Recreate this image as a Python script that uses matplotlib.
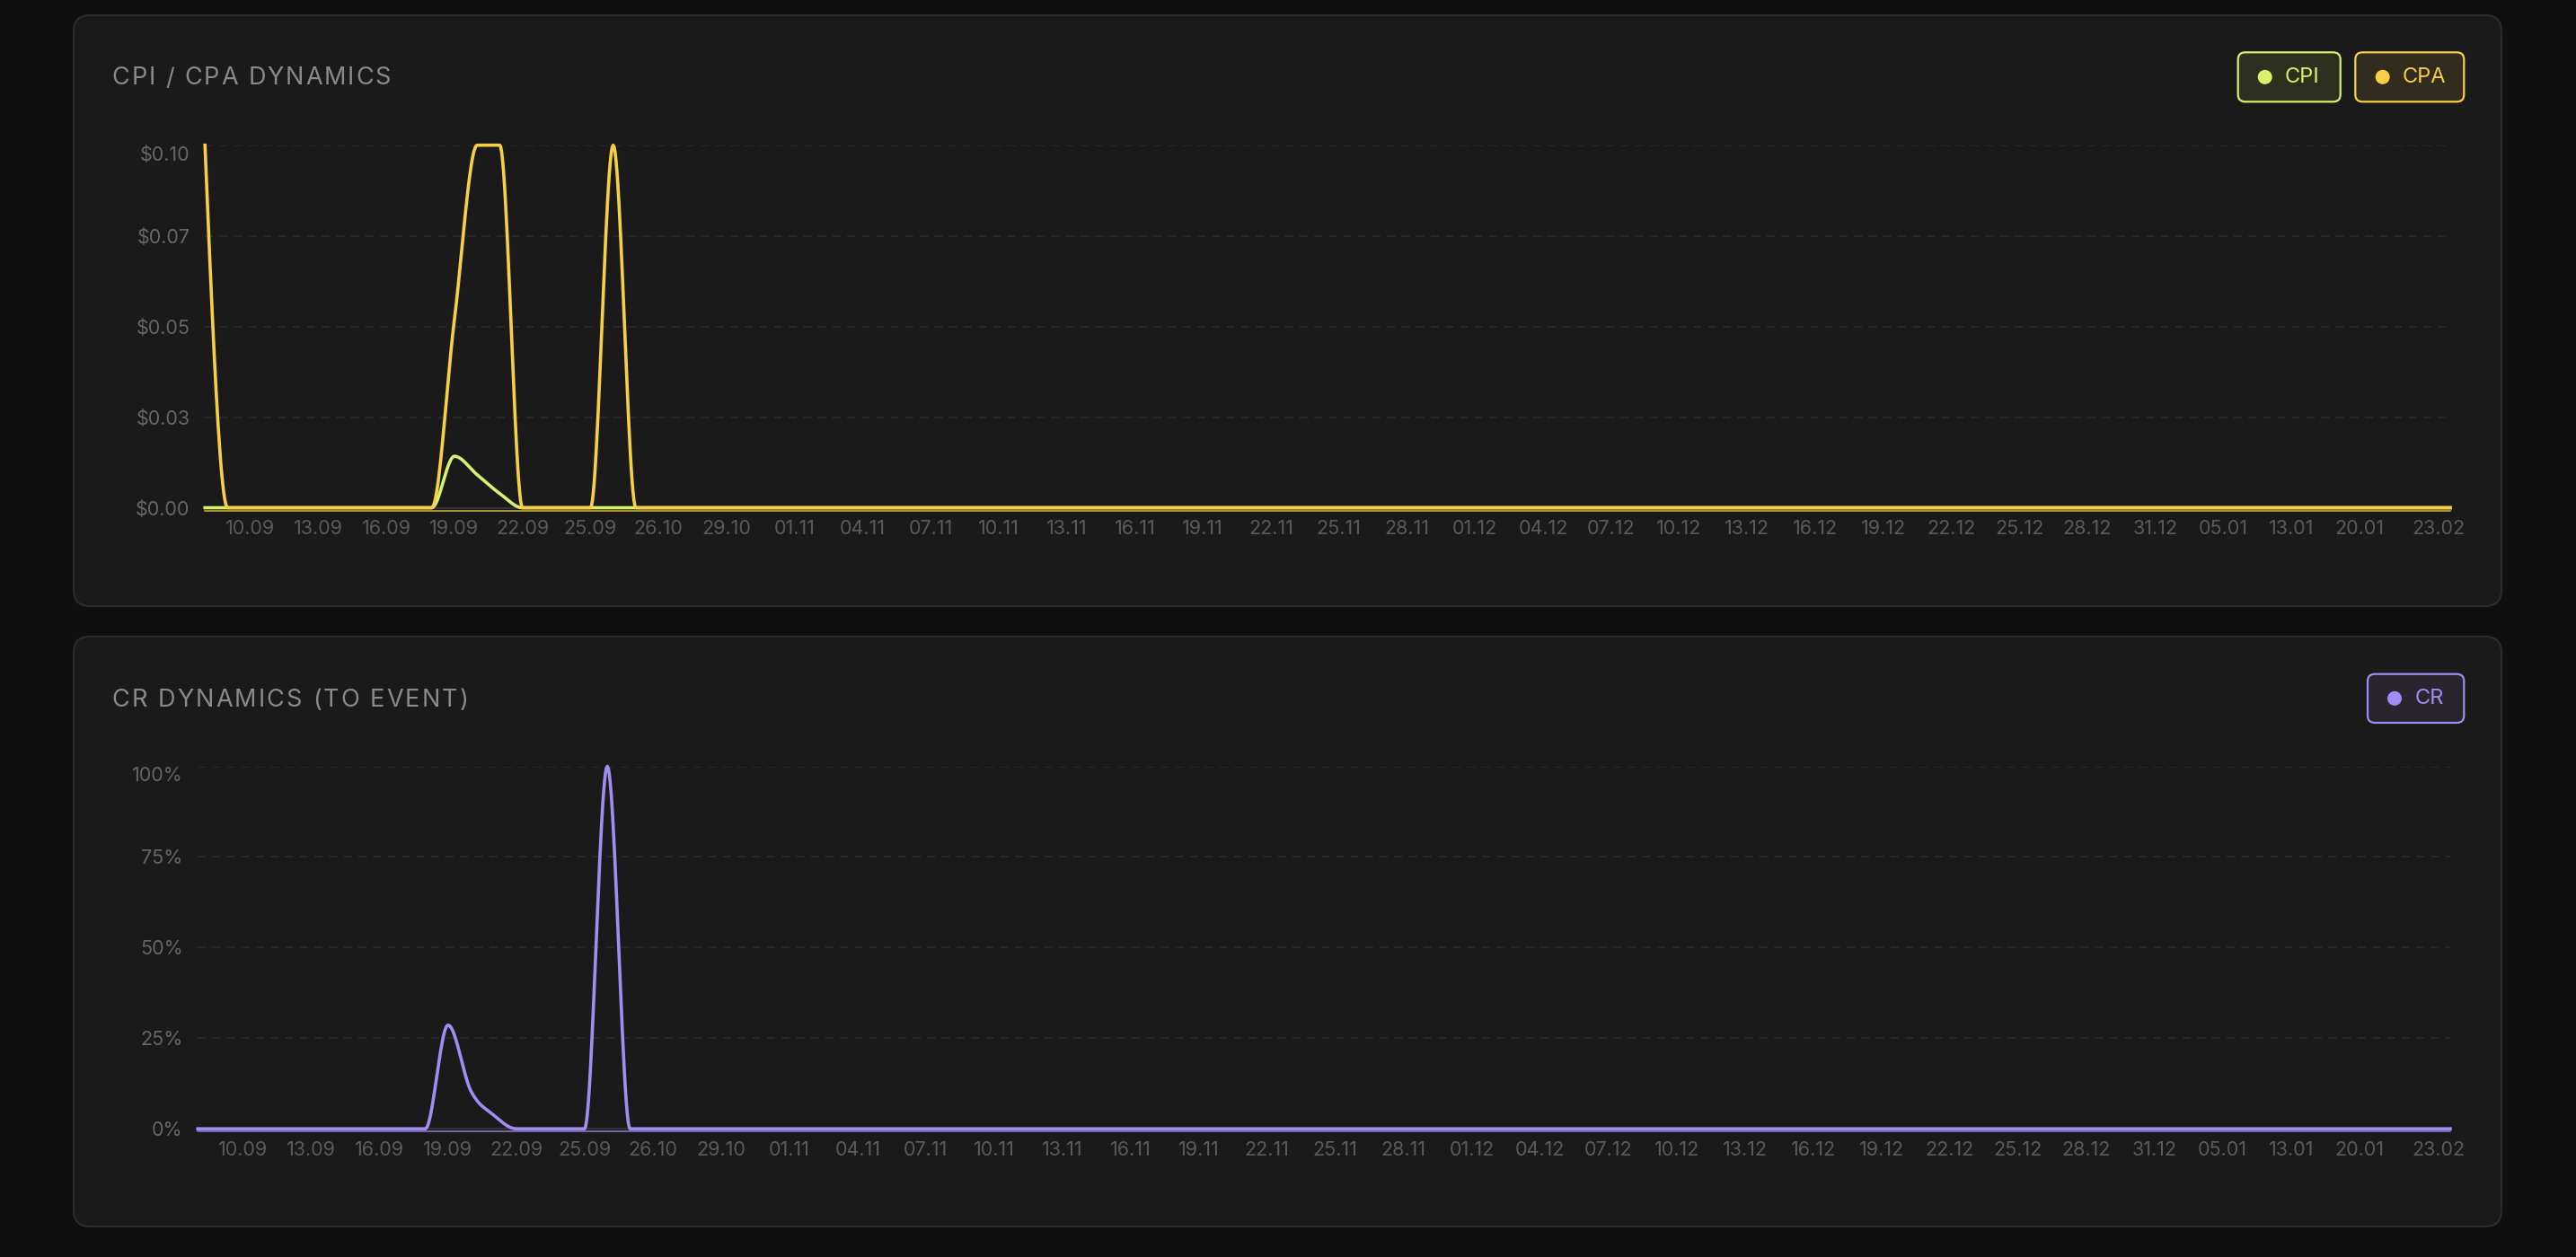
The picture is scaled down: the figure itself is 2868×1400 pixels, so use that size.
import numpy as np
import matplotlib
matplotlib.use('Agg')
import matplotlib.pyplot as plt
from matplotlib.patches import FancyBboxPatch, Circle
from matplotlib.ticker import FixedLocator, FuncFormatter
from matplotlib.transforms import IdentityTransform, ScaledTranslation

plt.rcParams['font.family'] = ['Inter', 'DejaVu Sans']

W, H = 2868, 1400
DPI = 100

# one point per day in the report, a label every third point
tick_labels = ['10.09', '13.09', '16.09', '19.09', '22.09', '25.09', '26.10', '29.10',
               '01.11', '04.11', '07.11', '10.11', '13.11', '16.11', '19.11', '22.11',
               '25.11', '28.11', '01.12', '04.12', '07.12', '10.12', '13.12', '16.12',
               '19.12', '22.12', '25.12', '28.12', '31.12', '05.01', '13.01', '20.01',
               '23.02']
n_points = 100
tick_index = list(range(2, 96, 3)) + [n_points - 1]

cpi = [0.0] * 11 + [0.0142, 0.0091, 0.0039] + [0.0] * 86
cpa = [0.10, 0, 0, 0, 0, 0, 0, 0, 0, 0, 0, 0.052, 0.10, 0.10, 0, 0, 0, 0, 0.10, 0] + [0.0] * 80
cr = [0.0] * 11 + [0.286, 0.105, 0.038, 0, 0, 0, 0, 1.0, 0] + [0.0] * 80

cpa_ticks = [0, 0.025, 0.05, 0.075, 0.10]
cr_ticks = [0, 0.25, 0.5, 0.75, 1.0]

BG = '#0f0f0f'
PANEL = '#1a1a1a'
BORDER = '#2c2c2c'
GRID = '#2a2a2a'
C_CPI = '#d4f26b'
C_CPA = '#f7cf47'
C_CR = '#a28cf2'
LW = 2.6


def monotone(y, steps=24):
    # same curve as d3.curveMonotoneX on unit spaced points
    y = np.asarray(y, dtype=float)
    s = np.diff(y)
    t = np.zeros_like(y)
    for i in range(1, len(y) - 1):
        s0, s1 = s[i - 1], s[i]
        p = (s0 + s1) / 2
        t[i] = (np.sign(s0) + np.sign(s1)) * min(abs(s0), abs(s1), 0.5 * abs(p))
    t[0] = (3 * s[0] - t[1]) / 2
    t[-1] = (3 * s[-1] - t[-2]) / 2
    u = np.linspace(0, 1, steps, endpoint=False)
    xs, ys = [], []
    for i in range(len(y) - 1):
        p0, p3 = y[i], y[i + 1]
        p1, p2 = p0 + t[i] / 3, p3 - t[i + 1] / 3
        b = (1 - u) ** 3 * p0 + 3 * (1 - u) ** 2 * u * p1 + 3 * (1 - u) * u ** 2 * p2 + u ** 3 * p3
        bx = 3 * (1 - u) ** 2 * u / 3 + 3 * (1 - u) * u ** 2 * 2 / 3 + u ** 3
        xs.append(i + bx)
        ys.append(b)
    xs.append([len(y) - 1])
    ys.append([y[-1]])
    return np.concatenate(xs), np.concatenate(ys)


def box(x0, y0, x1, y1, fc, ec, r, lw=1.5, z=-5):
    p = FancyBboxPatch((x0, H - y1), x1 - x0, y1 - y0,
                       boxstyle=f'round,pad=0,rounding_size={r}',
                       transform=IdentityTransform(), fc=fc, ec=ec, lw=lw, zorder=z)
    fig.add_artist(p)


def tracked_text(x, y, s, size, color, track):
    r = fig.canvas.get_renderer()
    probe = fig.text(0, 0, '|', fontsize=size)
    bar_w = probe.get_window_extent(r).width
    for i, ch in enumerate(s):
        probe.set_text(s[:i] + '|')
        off = probe.get_window_extent(r).width - bar_w if i else 0
        fig.text(x + off + i * track, H - y, ch, fontsize=size, color=color,
                 va='center_baseline', ha='left', transform=IdentityTransform())
    probe.remove()


def legend_item(x0, x1, y0, y1, dot_x, text_x, label, color, fill):
    box(x0, y0, x1, y1, fill, color, 8, lw=1.6, z=5)
    yc = (y0 + y1) / 2
    fig.add_artist(Circle((dot_x, H - yc), 8, transform=IdentityTransform(),
                          fc=color, ec='none', zorder=6))
    fig.text(text_x, H - yc, label, fontsize=17, color=color, va='center',
             ha='left', transform=IdentityTransform(), zorder=6)


def nudge(label, dx, dy):
    label.set_transform(label.get_transform() + ScaledTranslation(dx / DPI, dy / DPI, fig.dpi_scale_trans))


def make_axes(left, right, top, bottom, ticks, fmt):
    ax = fig.add_axes([left / W, 1 - bottom / H, (right - left) / W, (bottom - top) / H])
    ax.set_facecolor('none')
    ax.set_xlim(0, n_points - 1)
    ax.set_ylim(ticks[0], ticks[-1])
    ax.yaxis.set_major_locator(FixedLocator(ticks))
    ax.yaxis.set_major_formatter(FuncFormatter(fmt))
    ax.set_xticks(tick_index)
    ax.set_xticklabels(tick_labels)
    ax.tick_params(axis='both', length=0, labelsize=15.5)
    ax.tick_params(axis='y', pad=12, labelcolor='#666666')
    ax.tick_params(axis='x', pad=10, labelcolor='#5a5a5a')
    # the last date and the top value sit a little inside the box
    nudge(ax.xaxis.get_ticklabels()[-1], -13, 0)
    nudge(ax.yaxis.get_ticklabels()[-1], 0, -9)
    for side in ['top', 'right', 'left']:
        ax.spines[side].set_visible(False)
    ax.spines['bottom'].set_color('#333333')
    ax.spines['bottom'].set_linewidth(1.5)
    ax.grid(axis='y', color=GRID, lw=1.3, ls=(0, (5, 4)))
    ax.grid(axis='x', visible=False)
    return ax


def base_line(ax, color):
    # faint copy of the zero line a few pixels under the axis
    shift = ScaledTranslation(0, -3 / DPI, fig.dpi_scale_trans)
    ax.plot([0, n_points - 1], [0, 0], color=color, lw=1.1, alpha=0.85,
            transform=ax.transData + shift, clip_on=False, zorder=2)


fig = plt.figure(figsize=(W / DPI, H / DPI), dpi=DPI, facecolor=BG)

# panels
box(82, 17, 2785, 675, PANEL, BORDER, 18)
box(82, 709, 2785, 1366, PANEL, BORDER, 18)

# CPI / CPA chart
ax1 = make_axes(228.2, 2728, 161.7, 565.5, cpa_ticks, lambda v, _: f'${v:.2f}')
base_line(ax1, C_CPA)
x, y = monotone(cpi)
ax1.plot(x, y, color=C_CPI, lw=LW, clip_on=False, zorder=3, solid_joinstyle='round')
x, y = monotone(cpa)
ax1.plot(x, y, color=C_CPA, lw=LW, clip_on=False, zorder=4, solid_joinstyle='round')

# CR chart
ax2 = make_axes(220.2, 2728, 853.5, 1257.2, cr_ticks, lambda v, _: f'{v * 100:.0f}%')
base_line(ax2, C_CR)
x, y = monotone(cr)
ax2.plot(x, y, color=C_CR, lw=LW, clip_on=False, zorder=4, solid_joinstyle='round')

# titles
tracked_text(124.6, 84.5, 'CPI / CPA DYNAMICS', 19.5, '#8a8a8a', 1.9)
tracked_text(124.6, 777, 'CR DYNAMICS (TO EVENT)', 19.5, '#8a8a8a', 2.1)

# legends
legend_item(2491.7, 2605.7, 58.3, 113.3, 2521.7, 2544, 'CPI', C_CPI, '#2d301f')
legend_item(2622.3, 2743.3, 58.3, 113.3, 2652.7, 2675, 'CPA', C_CPA, '#322c1e')
legend_item(2636, 2743.3, 750.7, 805, 2666, 2688.3, 'CR', C_CR, '#28252f')

fig.savefig('out.png', dpi=DPI, facecolor=BG)
